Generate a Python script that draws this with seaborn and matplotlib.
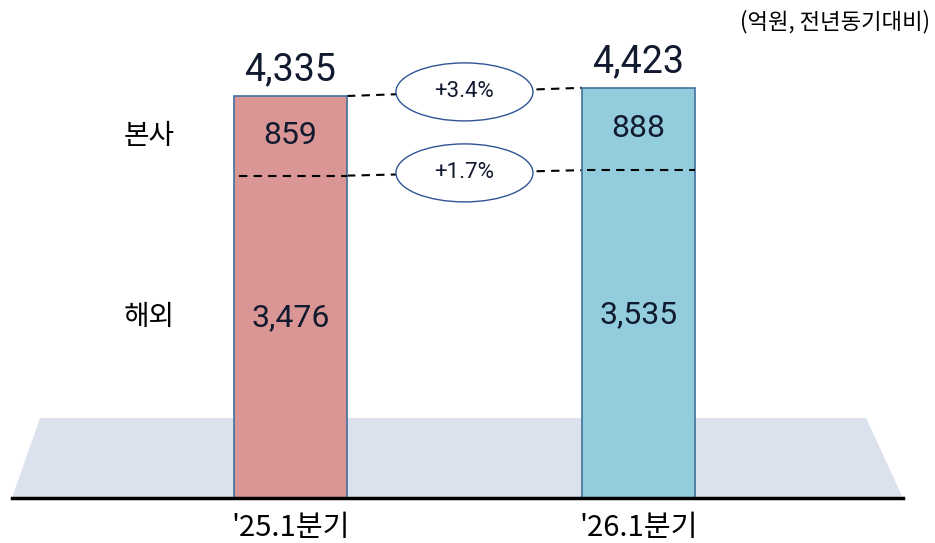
import matplotlib
matplotlib.use("Agg")
import pandas as pd
import seaborn as sns
import matplotlib.pyplot as plt
from matplotlib.patches import Ellipse, Polygon

periods = ["'25.1분기", "'26.1분기"]
hq = [859, 888]
overseas = [3476, 3535]
totals = [4335, 4423]
growth_labels = ["+3.4%", "+1.7%"]
segment_names = ["본사", "해외"]
unit_note = "(억원, 전년동기대비)"
bar_colors = ["#D99694", "#93CDDD"]

df = pd.DataFrame({"period": periods, "total": totals, "overseas": overseas, "hq": hq})

sns.set_theme(style="white")
plt.rcParams["font.family"] = ["Noto Sans CJK KR", "DejaVu Sans"]
num_font = ["Roboto", "Noto Sans CJK KR"]
ink = "#111a2e"

fig = plt.figure(figsize=(9.35, 5.43), dpi=100)
ax = fig.add_axes([12 / 935, 45 / 543, 891 / 935, 498 / 543])

sns.barplot(data=df, x="period", y="total", hue="period", palette=bar_colors,
            saturation=1, width=0.325, edgecolor="#41719C", linewidth=1.2,
            legend=False, ax=ax, zorder=3)

ymax = 5370
ax.set_xlim(-0.80, 1.76)
ax.set_ylim(0, ymax)
px_per_unit = 498 / ymax

# floor shape behind the bars
floor = Polygon([(0, 0), (28 / 891, 80 / 498), (854 / 891, 80 / 498), (1, 0)],
                closed=True, transform=ax.transAxes, facecolor="#DCE1EE",
                edgecolor="none", zorder=1)
ax.add_patch(floor)

bars = ax.patches[:2]
for i, p in enumerate(bars):
    x0, x1 = p.get_x(), p.get_x() + p.get_width()
    xc = p.get_x() + p.get_width() / 2
    ax.hlines(overseas[i], x0 + 0.015, x1, colors="black", linestyles=(0, (4, 3)),
              lw=1.5, zorder=4)
    ax.annotate(f"{totals[i]:,}", (xc, totals[i]), xytext=(0, 11),
                textcoords="offset points", ha="center", va="baseline",
                fontsize=27, color=ink, family=num_font)
    ax.text(xc, overseas[i] + hq[i] / 2, f"{hq[i]:,}", ha="center", va="center",
            fontsize=23, color=ink, family=num_font, zorder=5)
    ax.text(xc, overseas[i] * 0.56, f"{overseas[i]:,}", ha="center", va="center",
            fontsize=23, color=ink, family=num_font, zorder=5)

# connector lines with growth ellipses
left_x = bars[0].get_x() + bars[0].get_width()
right_x = bars[1].get_x()
for vals, lab in zip([totals, overseas], growth_labels):
    ax.plot([left_x, right_x], vals, color="black", ls=(0, (4, 3)), lw=1.5, zorder=2)
    cx = (left_x + right_x) / 2
    cy = sum(vals) / 2
    ax.add_patch(Ellipse((cx, cy), 137 / 348, 58 / px_per_unit, facecolor="white",
                         edgecolor="#2F5597", lw=1, zorder=6))
    ax.text(cx, cy, lab, ha="center", va="center", fontsize=16, color=ink,
            family=num_font, zorder=7)

# segment names on the left
ax.text(-0.407, overseas[0] + hq[0] / 2, segment_names[0], ha="center", va="center",
        fontsize=20, color="black")
ax.text(-0.407, overseas[0] * 0.56, segment_names[1], ha="center", va="center",
        fontsize=20, color="black")

fig.text(930 / 935, 1 - 22 / 543, unit_note, ha="right", va="center", fontsize=16,
         color="black")

ax.set_xlabel("")
ax.set_ylabel("")
ax.set_yticks([])
ax.tick_params(axis="x", length=0, pad=11, labelsize=21, labelcolor="black")
for side in ["top", "left", "right"]:
    ax.spines[side].set_visible(False)
ax.spines["bottom"].set_color("black")
ax.spines["bottom"].set_linewidth(2.5)
ax.spines["bottom"].set_zorder(5)

fig.savefig("out.png", dpi=100)
